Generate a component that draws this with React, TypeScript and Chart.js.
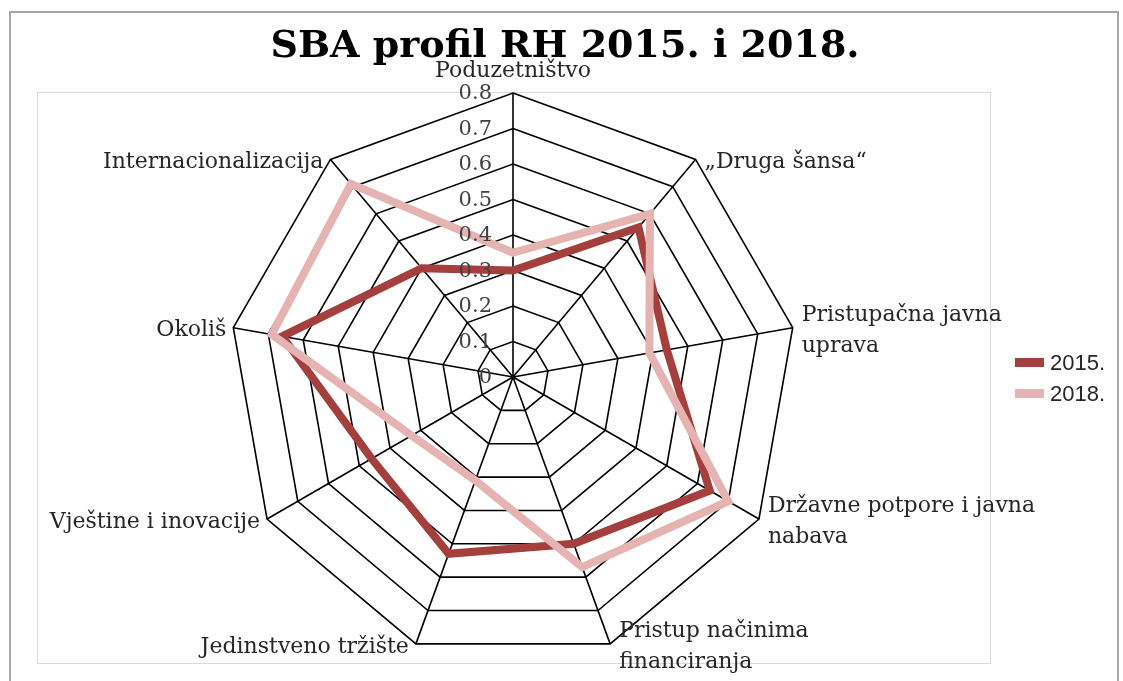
import React, { useEffect, useRef } from "react";
import { Chart, registerables } from "chart.js";

Chart.register(...registerables);

const titleText = "SBA profil RH 2015. i 2018.";
const categories: string[][] = [
  ["Poduzetništvo"],
  ["„Druga šansa“"],
  ["Pristupačna javna", "uprava"],
  ["Državne potpore i javna", "nabava"],
  ["Pristup načinima", "financiranja"],
  ["Jedinstveno tržište"],
  ["Vještine i inovacije"],
  ["Okoliš"],
  ["Internacionalizacija"],
];
const seriesNames = ["2015.", "2018."];
const values2015 = [0.3, 0.55, 0.44, 0.64, 0.5, 0.53, 0.46, 0.66, 0.4];
const values2018 = [0.35, 0.6, 0.39, 0.7, 0.57, 0.31, 0.33, 0.69, 0.71];
const tickLabels = ["0", "0.1", "0.2", "0.3", "0.4", "0.5", "0.6", "0.7", "0.8"];

const COLOR_2015 = "#A43F3E";
const COLOR_2018 = "#E6B3B3";
const LABEL_FONT = '22px "DejaVu Serif"';
const TICK_FONT = '21px "DejaVu Serif"';

const decorPlugin = {
  id: "decor",
  beforeDraw(chart: any) {
    const ctx = chart.ctx;
    ctx.save();
    ctx.fillStyle = "#ffffff";
    ctx.fillRect(0, 0, chart.width, chart.height);
    ctx.strokeStyle = "#a6a6a6";
    ctx.lineWidth = 2;
    ctx.strokeRect(10, 12, 1108, 700);
    ctx.strokeStyle = "#d9d9d9";
    ctx.lineWidth = 1;
    ctx.strokeRect(37.5, 92.5, 953, 571);
    ctx.restore();
  },
  afterDatasetsDraw(chart: any) {
    const ctx = chart.ctx;
    const scale = chart.scales.r;
    ctx.save();
    // tick labels
    ctx.font = TICK_FONT;
    ctx.fillStyle = "#404040";
    ctx.textAlign = "right";
    ctx.textBaseline = "middle";
    tickLabels.forEach((t) => {
      const d = scale.getDistanceFromCenterForValue(parseFloat(t));
      ctx.fillText(t, scale.xCenter - 21, scale.yCenter - d + 1);
    });
    // point labels
    ctx.font = LABEL_FONT;
    ctx.fillStyle = "#262626";
    const lh = 31;
    categories.forEach((lines, i) => {
      const p = scale.getPointPosition(i, scale.drawingArea);
      const angle = (i * 360) / categories.length;
      if (i === 0) {
        ctx.textAlign = "center";
        ctx.textBaseline = "middle";
        ctx.fillText(lines[0], p.x, p.y - 22);
        return;
      }
      let x = p.x;
      if (angle < 180) {
        ctx.textAlign = "left";
        x += 9;
      } else {
        ctx.textAlign = "right";
        x -= 7;
      }
      ctx.textBaseline = "middle";
      const startY = p.y + 3 - ((lines.length - 1) * lh) / 2;
      lines.forEach((ln, j) => ctx.fillText(ln, x, startY + j * lh));
    });
    // title
    ctx.fillStyle = "#000000";
    ctx.font = 'bold 38px "DejaVu Serif"';
    ctx.textAlign = "center";
    ctx.textBaseline = "alphabetic";
    ctx.fillText(titleText, 565, 57);
    // legend
    const colors = [COLOR_2015, COLOR_2018];
    ctx.font = '22px "Liberation Sans"';
    ctx.textAlign = "left";
    ctx.textBaseline = "middle";
    seriesNames.forEach((n, i) => {
      const y = 363 + i * 31;
      ctx.fillStyle = colors[i];
      ctx.fillRect(1015, y - 5, 29, 9);
      ctx.fillStyle = "#262626";
      ctx.fillText(n, 1050, y + 1);
    });
    ctx.restore();
  },
};

export default function App() {
  const ref = useRef<HTMLCanvasElement | null>(null);
  useEffect(() => {
    if (!ref.current) return;
    const chart = new Chart(ref.current, {
      type: "radar",
      data: {
        labels: categories.map((c) => c.join(" ")),
        datasets: [
          {
            label: seriesNames[0],
            data: values2015,
            borderColor: COLOR_2015,
            backgroundColor: COLOR_2015,
            borderWidth: 8,
            pointRadius: 0,
            pointHoverRadius: 0,
            fill: false,
            order: 1,
          },
          {
            label: seriesNames[1],
            data: values2018,
            borderColor: COLOR_2018,
            backgroundColor: COLOR_2018,
            borderWidth: 8,
            pointRadius: 0,
            pointHoverRadius: 0,
            fill: false,
            order: 0,
          },
        ],
      },
      options: {
        responsive: false,
        animation: false,
        devicePixelRatio: 1,
        layout: { padding: { left: 229, top: 93, right: 326, bottom: 20 } },
        plugins: { legend: { display: false }, title: { display: false }, tooltip: { enabled: false } },
        elements: { line: { tension: 0, borderJoinStyle: "miter" } },
        scales: {
          r: {
            min: 0,
            max: 0.8,
            ticks: { stepSize: 0.1, display: false },
            grid: { color: "#000000", lineWidth: 1.6 },
            angleLines: { color: "#000000", lineWidth: 1.6 },
            pointLabels: { display: false },
          },
        },
      },
      plugins: [decorPlugin],
    });
    return () => chart.destroy();
  }, []);
  return (
    <div style={{ position: "absolute", left: 0, top: 0, width: 1123, height: 681 }}>
      <canvas ref={ref} width={1123} height={681} />
    </div>
  );
}
